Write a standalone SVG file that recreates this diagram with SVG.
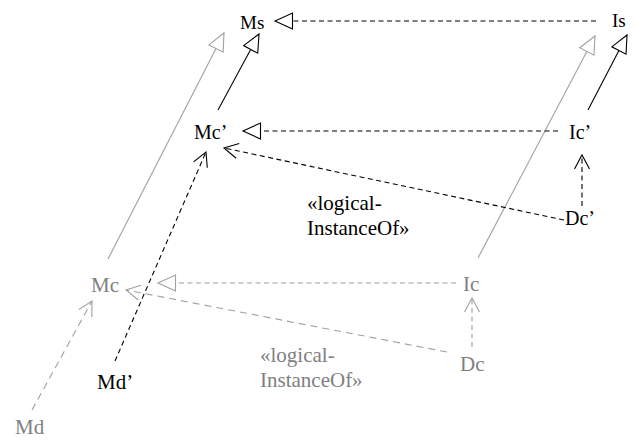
<svg xmlns="http://www.w3.org/2000/svg" width="635" height="442" viewBox="0 0 635 442">
<defs>
<style>
text{font-family:"Liberation Serif","Times New Roman",serif;font-size:21px}
.k{fill:#000}
.g{fill:#808080}
.lk{stroke:#000;stroke-width:1.1;fill:none}
.lg{stroke:#a0a0a0;stroke-width:1.1;fill:none}
.d{stroke-dasharray:5 3.5}
.dg{stroke-dasharray:7 5}
</style>
<marker id="tk" markerUnits="userSpaceOnUse" markerWidth="22" markerHeight="20" refX="18.5" refY="9" orient="auto" overflow="visible">
<path d="M1,1 L18.5,9 L1,17 Z" fill="#fff" stroke="#000" stroke-width="1.1"/>
</marker>
<marker id="tg" markerUnits="userSpaceOnUse" markerWidth="22" markerHeight="20" refX="18.5" refY="9" orient="auto" overflow="visible">
<path d="M1,1 L18.5,9 L1,17 Z" fill="#fff" stroke="#a0a0a0" stroke-width="1.1"/>
</marker>
<marker id="ak" markerUnits="userSpaceOnUse" markerWidth="16" markerHeight="16" refX="14" refY="7.5" orient="auto" overflow="visible">
<path d="M0,0 L14,7.5 L0,15" fill="none" stroke="#000" stroke-width="1.1"/>
</marker>
<marker id="ag" markerUnits="userSpaceOnUse" markerWidth="16" markerHeight="16" refX="14" refY="7.5" orient="auto" overflow="visible">
<path d="M0,0 L14,7.5 L0,15" fill="none" stroke="#a0a0a0" stroke-width="1.1"/>
</marker>
</defs>
<g id="connectors">
<line class="lk d" x1="596" y1="21" x2="275" y2="21" marker-end="url(#tk)"/>
<line class="lg" x1="108" y1="259" x2="224" y2="33" marker-end="url(#tg)"/>
<line class="lk" x1="218" y1="110" x2="259" y2="34" marker-end="url(#tk)"/>
<line class="lg" x1="478" y1="258" x2="595" y2="36" marker-end="url(#tg)"/>
<line class="lk" x1="588" y1="110" x2="627" y2="35" marker-end="url(#tk)"/>
<line class="lk d" x1="558" y1="131" x2="243" y2="131" marker-end="url(#tk)"/>
<line class="lk d" x1="582" y1="206" x2="582" y2="155" marker-end="url(#ak)"/>
<line class="lk d" x1="564" y1="220" x2="224" y2="148" marker-end="url(#ak)"/>
<line class="lk d" x1="115" y1="361" x2="206" y2="152" marker-end="url(#ak)"/>
<line class="lg d" x1="456" y1="283" x2="158" y2="283" marker-end="url(#tg)"/>
<line class="lg d" x1="472" y1="347" x2="472" y2="298" marker-end="url(#ag)"/>
<line class="lg dg" x1="447" y1="352" x2="126" y2="290" marker-end="url(#ag)"/>
<line class="lg dg" x1="32" y1="410" x2="92" y2="301" marker-end="url(#ag)"/>
</g>
<g id="Ms"><text class="k" x="240" y="29" style="font-size:19px">Ms</text></g>
<g id="Is"><text class="k" x="612" y="27" style="font-size:19px">Is</text></g>
<g id="Mc-prime"><text class="k" x="194" y="139" style="font-size:20px">Mc’</text></g>
<g id="Ic-prime"><text class="k" x="569" y="139" style="font-size:20px">Ic’</text></g>
<g id="Dc-prime"><text class="k" x="565" y="225" style="font-size:20px">Dc’</text></g>
<g id="label-prime"><text class="k" x="307" y="210">«logical-</text><text class="k" x="307" y="235">InstanceOf»</text></g>
<g id="Md-prime"><text class="k" x="97" y="389">Md’</text></g>
<g id="Mc"><text class="g" x="91" y="292">Mc</text></g>
<g id="Ic"><text class="g" x="463" y="291">Ic</text></g>
<g id="Dc"><text class="g" x="460" y="371">Dc</text></g>
<g id="label"><text class="g" x="260" y="362">«logical-</text><text class="g" x="260" y="387">InstanceOf»</text></g>
<g id="Md"><text class="g" x="15" y="434">Md</text></g>
</svg>
